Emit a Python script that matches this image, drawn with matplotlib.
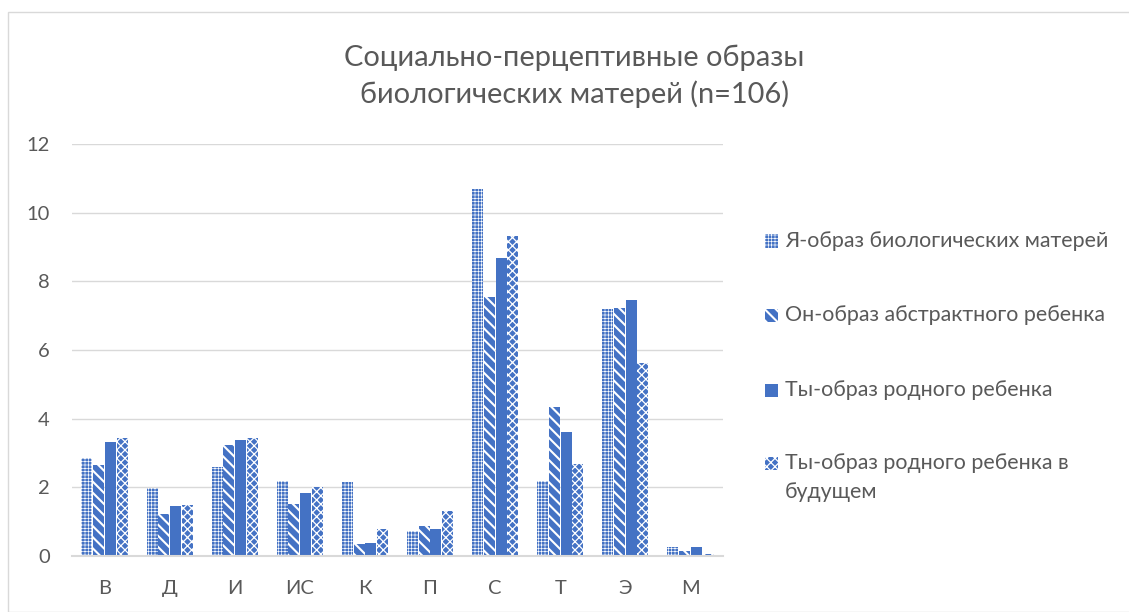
import matplotlib
matplotlib.use("Agg")
import matplotlib.pyplot as plt
from matplotlib.patches import Rectangle
import numpy as np

# Categories and series values
categories = ["В", "Д", "И", "ИС", "К", "П", "С", "Т", "Э", "М"]
series_names = [
    "Я-образ биологических матерей",
    "Он-образ абстрактного ребенка",
    "Ты-образ родного ребенка",
    "Ты-образ родного ребенка в\nбудущем",
]
ya_obraz = [2.85, 1.98, 2.59, 2.18, 2.15, 0.72, 10.69, 2.18, 7.19, 0.25]
on_obraz = [2.64, 1.22, 3.23, 1.51, 0.34, 0.87, 7.54, 4.34, 7.22, 0.16]
ty_obraz = [3.31, 1.45, 3.37, 1.83, 0.37, 0.80, 8.69, 3.61, 7.45, 0.27]
ty_future = [3.43, 1.48, 3.43, 2.00, 0.78, 1.31, 9.33, 2.68, 5.61, 0.06]
y_ticks = [0, 2, 4, 6, 8, 10, 12]
title = "Социально-перцептивные образы\nбиологических матерей (n=106)"

BLUE = "#4472C4"
GRID = "#d9d9d9"
TEXT = "#595959"
FONT = "Lato"

# (hatch pattern, hatch line width) for each series; white pattern on blue
styles = [("+++++", 0.45), ("\\\\\\", 1.5), ("", 0.0), ("xxxx", 0.9)]

W, H = 1129, 612
fig = plt.figure(figsize=(W / 100, H / 100), dpi=100)
plt.rcParams["font.family"] = [FONT, "DejaVu Sans"]


def px(x0, y0, w, h):
    """Figure-fraction rectangle from pixel box (top-left origin)."""
    return [x0 / W, 1 - (y0 + h) / H, w / W, h / H]


# chart frame
fig.patches.append(Rectangle((7.5 / W, 0), 1.2, 1 - 12.3 / H, transform=fig.transFigure,
                             fill=False, edgecolor=GRID, linewidth=1.0))

ax = fig.add_axes(px(72, 144, 651, 412))
x = np.arange(len(categories))
step, width = 0.18, 0.169
data = [ya_obraz, on_obraz, ty_obraz, ty_future]
for i, (vals, (hatch, hlw)) in enumerate(zip(data, styles)):
    with plt.rc_context({"hatch.linewidth": hlw if hlw else 1.0}):
        bars = ax.bar(x + (i - 1.5) * step, vals, width=width, color=BLUE,
                      edgecolor="white", linewidth=0, hatch=hatch or None, zorder=3)
    for b in bars:
        if hasattr(b, "set_hatch_linewidth") and hlw:
            b.set_hatch_linewidth(hlw)

ax.set_xlim(-0.5, len(categories) - 0.5)
ax.set_ylim(0, 12)
ax.set_yticks(y_ticks)
ax.set_yticklabels([str(t) for t in y_ticks])
ax.set_xticks(x)
ax.set_xticklabels(categories)
ax.tick_params(axis="both", length=0, labelsize=14.5, labelcolor=TEXT)
ax.tick_params(axis="y", pad=16)
ax.tick_params(axis="x", pad=17)
ax.grid(axis="y", color=GRID, linewidth=1.0, zorder=0)
for s in ["top", "left", "right"]:
    ax.spines[s].set_visible(False)
ax.spines["bottom"].set_color(GRID)
ax.spines["bottom"].set_linewidth(1.5)
ax.spines["bottom"].set_zorder(4)

fig.text(574 / W, 1 - 76 / H, title, ha="center", va="center", fontsize=20.9,
         color=TEXT, linespacing=1.4)

# legend on the right
entry_y = [241, 315, 390, 463]
for (name, (hatch, hlw), yc) in zip(series_names, styles, entry_y):
    with plt.rc_context({"hatch.linewidth": hlw if hlw else 1.0}):
        r = Rectangle(((765) / W, 1 - (yc + 6.5) / H), 13 / W, 13 / H,
                      transform=fig.transFigure, facecolor=BLUE, edgecolor="white",
                      linewidth=0, hatch=hatch or None)
    if hasattr(r, "set_hatch_linewidth") and hlw:
        r.set_hatch_linewidth(hlw)
    fig.patches.append(r)
    fig.text(785 / W, 1 - yc / H, name.split("\n")[0], ha="left", va="center",
             fontsize=15.4, color=TEXT)
    if "\n" in name:
        fig.text(785 / W, 1 - (yc + 29.5) / H, name.split("\n")[1], ha="left",
                 va="center", fontsize=15.4, color=TEXT)

fig.savefig("out.png", dpi=100, facecolor="white")
